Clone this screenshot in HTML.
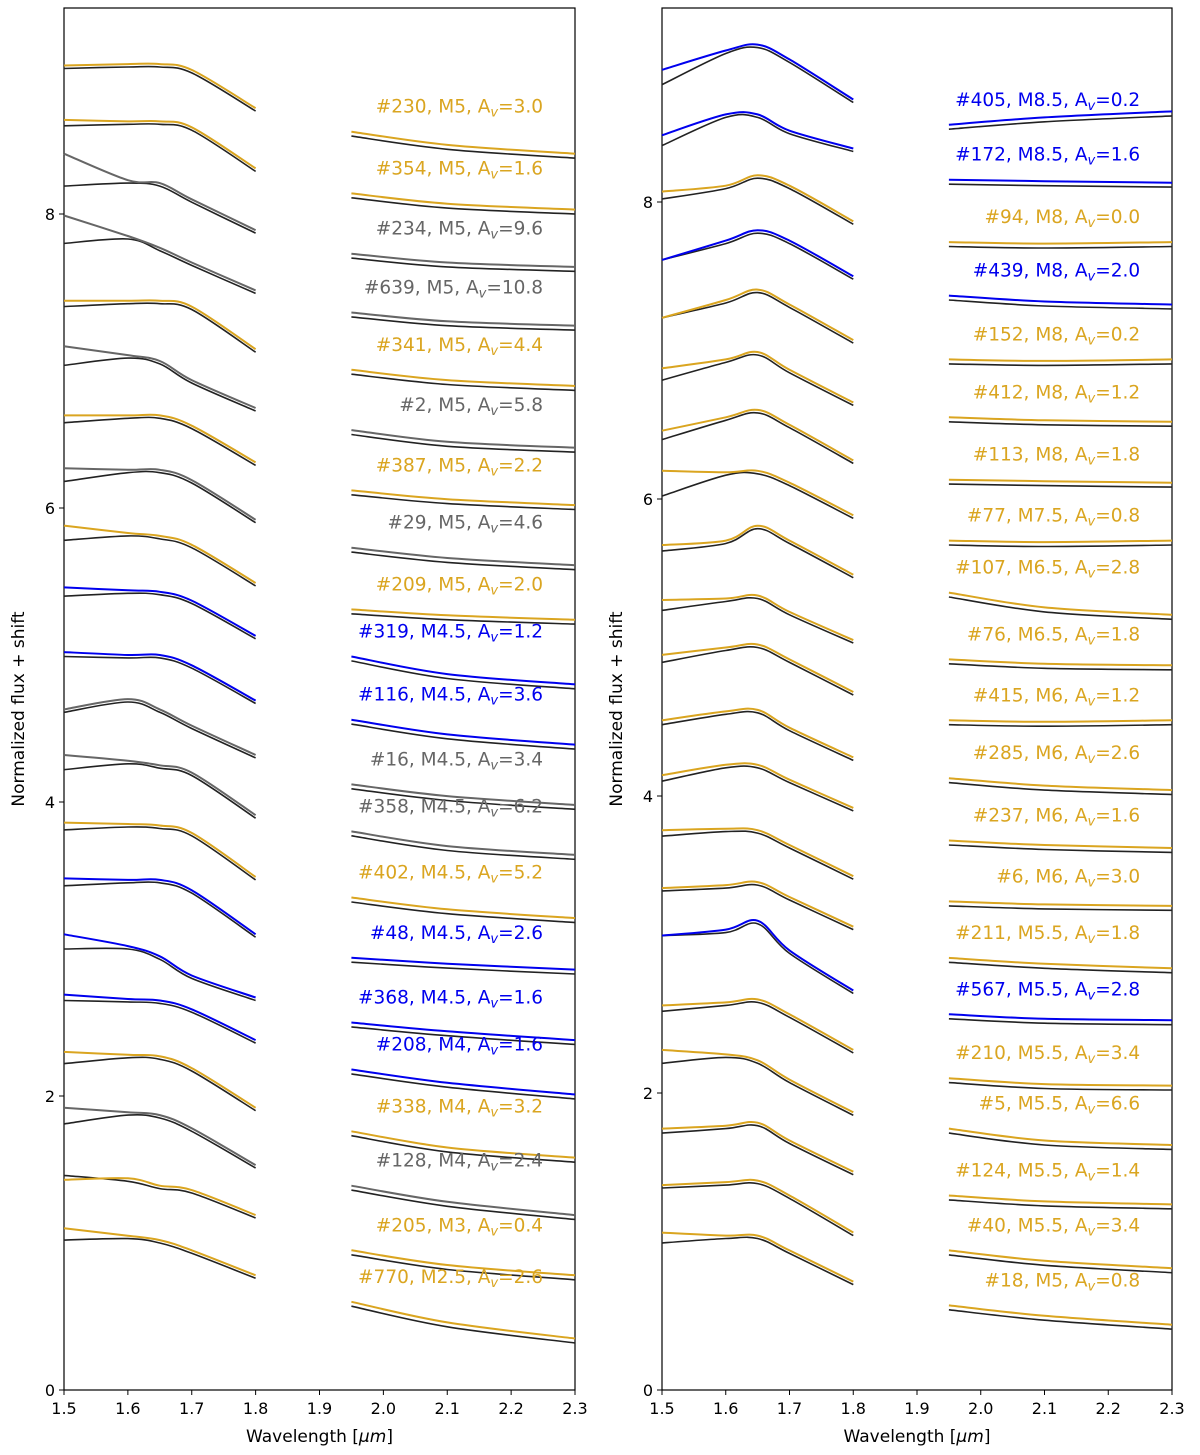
<!DOCTYPE html>
<html><head><meta charset="utf-8"><style>
body{margin:0;background:#fff}
svg{display:block;font-family:"DejaVu Sans","Liberation Sans",sans-serif}
</style></head><body>
<svg id="chart" width="1200" height="1455" viewBox="0 0 1200 1455" xmlns="http://www.w3.org/2000/svg"></svg>
<script>
const hWave = [1.5,1.6,1.65,1.7,1.8];
const kWave = [1.95,2.1,2.3];
const xTicks = [1.5,1.6,1.7,1.8,1.9,2.0,2.1,2.2,2.3];
const yTicks = [0,2,4,6,8];

const leftIds = ["#230","#354","#234","#639","#341","#2","#387","#29","#209","#319","#116","#16","#358","#402","#48","#368","#208","#338","#128","#205","#770"];
const leftTypes = ["M5","M5","M5","M5","M5","M5","M5","M5","M5","M4.5","M4.5","M4.5","M4.5","M4.5","M4.5","M4.5","M4","M4","M4","M3","M2.5"];
const leftAv = ["3.0","1.6","9.6","10.8","4.4","5.8","2.2","4.6","2.0","1.2","3.6","3.4","6.2","5.2","2.6","1.6","1.6","3.2","2.4","0.4","2.6"];
const leftColors = ["o","o","g","g","o","g","o","g","o","b","b","g","g","o","b","b","b","o","g","o","o"];
const leftH = [[9.01,9.02,9.02,8.98,8.72],[8.64,8.63,8.63,8.59,8.31],[8.41,8.23,8.21,8.10,7.89],[7.99,7.85,7.77,7.67,7.48],[7.41,7.41,7.41,7.37,7.08],[7.10,7.04,7.00,6.87,6.68],[6.63,6.63,6.63,6.56,6.31],[6.27,6.26,6.26,6.19,5.92],[5.88,5.83,5.81,5.75,5.49],[5.46,5.44,5.43,5.37,5.13],[5.02,5.0,5.0,4.93,4.69],[4.63,4.70,4.63,4.52,4.32],[4.32,4.28,4.25,4.20,3.91],[3.86,3.85,3.84,3.79,3.49],[3.48,3.47,3.47,3.40,3.10],[3.10,3.02,2.95,2.82,2.67],[2.69,2.66,2.65,2.59,2.38],[2.30,2.28,2.27,2.19,1.92],[1.92,1.89,1.87,1.78,1.53],[1.43,1.44,1.39,1.36,1.19],[1.10,1.05,1.02,0.95,0.78]];
const leftK = [[8.56,8.47,8.41],[8.14,8.07,8.03],[7.73,7.67,7.64],[7.33,7.27,7.24],[6.94,6.87,6.83],[6.53,6.45,6.41],[6.12,6.06,6.02],[5.73,5.66,5.61],[5.31,5.27,5.24],[4.99,4.87,4.80],[4.56,4.46,4.39],[4.12,4.04,3.98],[3.80,3.70,3.64],[3.35,3.27,3.21],[2.94,2.90,2.86],[2.50,2.44,2.38],[2.18,2.09,2.01],[1.76,1.65,1.58],[1.39,1.28,1.19],[0.95,0.85,0.78],[0.60,0.46,0.35]];
const leftModelStart = [8.99,8.60,8.19,7.80,7.37,6.97,6.58,6.18,5.78,5.40,4.99,4.61,4.22,3.81,3.43,3.00,2.65,2.22,1.81,1.46,1.02];

const rightIds = ["#405","#172","#94","#439","#152","#412","#113","#77","#107","#76","#415","#285","#237","#6","#211","#567","#210","#5","#124","#40","#18"];
const rightTypes = ["M8.5","M8.5","M8","M8","M8","M8","M8","M7.5","M6.5","M6.5","M6","M6","M6","M6","M5.5","M5.5","M5.5","M5.5","M5.5","M5.5","M5"];
const rightAv = ["0.2","1.6","0.0","2.0","0.2","1.2","1.8","0.8","2.8","1.8","1.2","2.6","1.6","3.0","1.8","2.8","3.4","6.6","1.4","3.4","0.8"];
const rightColors = ["b","b","o","b","o","o","o","o","o","o","o","o","o","o","o","b","o","o","o","o","o"];
const rightH = [[8.89,9.02,9.06,8.96,8.69],[8.45,8.59,8.59,8.48,8.36],[8.07,8.11,8.18,8.11,7.87],[7.61,7.74,7.81,7.74,7.50],[7.22,7.34,7.41,7.31,7.07],[6.88,6.94,6.99,6.87,6.65],[6.46,6.55,6.60,6.50,6.26],[6.19,6.18,6.19,6.11,5.89],[5.69,5.72,5.82,5.72,5.49],[5.32,5.33,5.35,5.24,5.05],[4.95,5.0,5.02,4.92,4.70],[4.51,4.57,4.58,4.46,4.26],[4.14,4.21,4.21,4.11,3.92],[3.77,3.78,3.77,3.67,3.46],[3.38,3.40,3.42,3.32,3.12],[3.06,3.10,3.16,2.96,2.69],[2.59,2.61,2.63,2.53,2.29],[2.29,2.26,2.22,2.09,1.87],[1.76,1.78,1.80,1.68,1.47],[1.38,1.40,1.41,1.31,1.06],[1.06,1.04,1.04,0.94,0.73]];
const rightK = [[8.52,8.57,8.61],[8.15,8.14,8.13],[7.73,7.72,7.73],[7.37,7.33,7.31],[6.94,6.93,6.94],[6.55,6.53,6.52],[6.13,6.12,6.11],[5.72,5.71,5.72],[5.37,5.27,5.22],[4.92,4.89,4.88],[4.51,4.50,4.51],[4.12,4.07,4.04],[3.70,3.67,3.65],[3.29,3.27,3.26],[2.91,2.87,2.84],[2.53,2.50,2.49],[2.10,2.06,2.05],[1.76,1.68,1.65],[1.31,1.27,1.25],[0.94,0.87,0.82],[0.57,0.50,0.44]];
const rightModelStart = [8.79,8.38,8.02,7.61,7.22,6.80,6.40,6.02,5.65,5.25,4.90,4.48,4.10,3.73,3.36,3.06,2.55,2.20,1.73,1.36,0.99];

const COL = {o:"#daa520", b:"#0000ee", g:"#666666"};
const NS = "http://www.w3.org/2000/svg";
const svg = document.getElementById("chart");
function mk(tag, attrs, parent){const e=document.createElementNS(NS,tag);for(const k in attrs)e.setAttribute(k,attrs[k]);(parent||svg).appendChild(e);return e;}
function smooth(p){
  let d="M"+p[0][0].toFixed(1)+","+p[0][1].toFixed(1);
  for(let i=0;i<p.length-1;i++){
    const p0=p[Math.max(0,i-1)],p1=p[i],p2=p[i+1],p3=p[Math.min(p.length-1,i+2)];
    const c1=[p1[0]+(p2[0]-p0[0])/6,p1[1]+(p2[1]-p0[1])/6];
    const c2=[p2[0]-(p3[0]-p1[0])/6,p2[1]-(p3[1]-p1[1])/6];
    d+=` C${c1[0].toFixed(1)},${c1[1].toFixed(1)} ${c2[0].toFixed(1)},${c2[1].toFixed(1)} ${p2[0].toFixed(1)},${p2[1].toFixed(1)}`;
  }
  return d;
}

function panel(side, px0, px1, pyTop, pyBot, vTop, ids, types, avs, cols, H, K, MS){
  const xs = w => px0 + (w-1.5)/(0.8)*(px1-px0);
  const ys = v => pyBot - v/vTop*(pyBot-pyTop);
  const g = mk("g",{});
  
  
  const frame = mk("rect",{x:px0,y:pyTop,width:px1-px0,height:pyBot-pyTop,fill:"none",stroke:"#000","stroke-width":1.2},g);
  
  
  xTicks.forEach(t=>{
    const x=xs(t);
    mk("line",{x1:x,x2:x,y1:pyBot,y2:pyBot+5,stroke:"#000"},g);
    const tx=mk("text",{x:x,y:pyBot+24,"text-anchor":"middle","font-size":16},g);
    tx.textContent=t.toFixed(1);
    
    
  });
  yTicks.forEach(t=>{
    const y=ys(t);
    mk("line",{x1:px0-5,x2:px0,y1:y,y2:y,stroke:"#000"},g);
    const tx=mk("text",{x:px0-9,y:y+6,"text-anchor":"end","font-size":16},g);
    tx.textContent=t;
    
    
  });
  const xl=mk("text",{x:(px0+px1)/2,y:pyBot+52,"text-anchor":"middle","font-size":17},g);
  xl.innerHTML='Wavelength [<tspan font-style="italic">μm</tspan>]';
  
  
  const yl=mk("text",{x:0,y:0,"text-anchor":"middle","font-size":17,transform:`translate(${px0-40},${(pyTop+pyBot)/2+10}) rotate(-90)`},g);
  yl.textContent="Normalized flux + shift";
  
  
  ids.forEach((id,i)=>{
    const c=COL[cols[i]];
    const mh=H[i].map((v,j)=>j===0?MS[i]:v-0.02);
    const mkk=K[i].map(v=>v-0.03);
    const pts=(w,v)=>w.map((x,j)=>[xs(x),ys(v[j])]);
    const m1=mk("path",{d:smooth(pts(hWave,mh)),fill:"none",stroke:"#222","stroke-width":1.6},g);
    
    
    const m2=mk("path",{d:smooth(pts(kWave,mkk)),fill:"none",stroke:"#222","stroke-width":1.6},g);
    
    
    const o1=mk("path",{d:smooth(pts(hWave,H[i])),fill:"none",stroke:c,"stroke-width":2},g);
    
    
    const o2=mk("path",{d:smooth(pts(kWave,K[i])),fill:"none",stroke:c,"stroke-width":2},g);
    
    
    const lb=mk("text",{x:xs(2.25),y:ys(K[i][0])-19,"text-anchor":"end","font-size":18.5,fill:c},g);
    lb.innerHTML=`${id}, ${types[i]}, A<tspan font-size="13" dy="4" font-style="italic">v</tspan><tspan dy="-4">=${avs[i]}</tspan>`;
    
    
  });
}
panel("left",64,575,8,1390,(1390-8)/147,leftIds,leftTypes,leftAv,leftColors,leftH,leftK,leftModelStart);
panel("right",662,1172,8,1390,(1390-8)/148.5,rightIds,rightTypes,rightAv,rightColors,rightH,rightK,rightModelStart);
</script>
</body></html>
